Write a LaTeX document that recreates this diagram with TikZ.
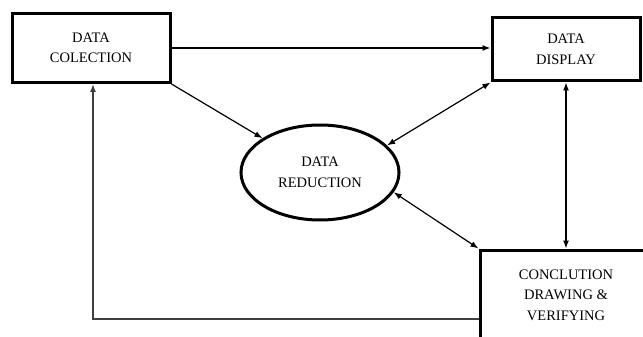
\documentclass[tikz,border=0pt]{standalone}
\usepackage{fontspec}
\setmainfont{Liberation Serif}
\usetikzlibrary{arrows.meta,shapes.geometric}

\begin{document}
\begin{tikzpicture}[x=1pt,y=-1pt,
    every node/.style={font=\fontsize{14.5}{20.5}\selectfont, align=center},
    stagebox/.style={draw, rectangle, line width=3pt, inner sep=0pt},
    hub/.style={draw, ellipse, line width=3pt, inner sep=0pt},
    flow/.style={line width=1.2pt, -{Latex[length=8pt,width=6pt]}},
    twoway/.style={line width=1.2pt, {Latex[length=8pt,width=6pt]}-{Latex[length=8pt,width=6pt]}}]
    \useasboundingbox (0,0) rectangle (643,337);
    \clip (0,0) rectangle (643,337);

    % stages
    \node[stagebox, minimum width=158pt, minimum height=69pt] (dc) at (91,48) {DATA\\COLECTION};
    \node[stagebox, minimum width=148pt, minimum height=63pt] (dd) at (566,49.5) {DATA\\DISPLAY};
    \node[hub, minimum width=158pt, minimum height=95pt] (dr) at (320,172.5) {DATA\\REDUCTION};
    \node[stagebox, minimum width=172pt, minimum height=90pt] (cc) at (566,295) {CONCLUTION\\DRAWING \&\\VERIFYING};

    % links
    \draw[flow] (dc.east) -- (dc.east -| dd.west);
    \draw[flow] (dc.south east) -- (dr);
    \draw[twoway] (dd.south west) -- (dr.22);
    \draw[twoway] (dr.-15) -- (cc.north west);
    \draw[twoway] (dd.south) -- (cc.north);

    % back to the start
    \coordinate (lp) at (93,319);
    \draw[flow, black!75] (cc.west |- lp) -- (lp) -- (lp |- dc.south);
\end{tikzpicture}
\end{document}
